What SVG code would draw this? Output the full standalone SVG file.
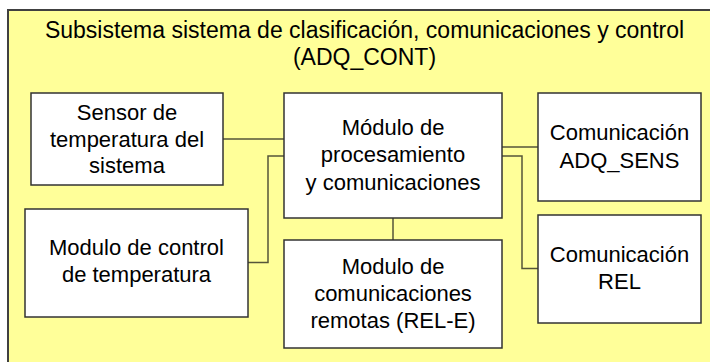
<svg xmlns="http://www.w3.org/2000/svg" width="710" height="362" viewBox="0 0 710 362">
<style>
.box{fill:#ffffff;stroke:#333333;stroke-width:1.5}
.t{font-family:"Liberation Sans",Arial,sans-serif;font-size:22px;fill:#000;text-anchor:middle}
.title{font-size:23px}
.c{fill:none;stroke:#55553a;stroke-width:1.5}
</style>
<rect x="8" y="10" width="730" height="380" fill="#ffff99" stroke="#404040" stroke-width="2"/>
<text class="t title" x="364.5" y="38">Subsistema sistema de clasificación, comunicaciones y control</text>
<text class="t title" x="364.5" y="65">(ADQ_CONT)</text>
<g id="connectors">
<path class="c" d="M223 139H284"/>
<path class="c" d="M248 262.5H268V156H284"/>
<path class="c" d="M393 218V240"/>
<path class="c" d="M502 147H538"/>
<path class="c" d="M502 156H522V268.5H538"/>
</g>
<g id="sensor">
<rect class="box" x="31" y="93" width="192" height="92"/>
<text class="t" x="127" y="120">Sensor de</text>
<text class="t" x="127" y="147">temperatura del</text>
<text class="t" x="127" y="173">sistema</text>
</g>
<g id="procesamiento">
<rect class="box" x="284" y="93" width="218" height="125"/>
<text class="t" x="393" y="135">Módulo de</text>
<text class="t" x="393" y="162">procesamiento</text>
<text class="t" x="393" y="190">y comunicaciones</text>
</g>
<g id="adq_sens">
<rect class="box" x="538" y="93" width="163" height="108"/>
<text class="t" x="619.5" y="140">Comunicación</text>
<text class="t" x="619.5" y="168">ADQ_SENS</text>
</g>
<g id="rel">
<rect class="box" x="538" y="215" width="163" height="108"/>
<text class="t" x="619.5" y="262">Comunicación</text>
<text class="t" x="619.5" y="289">REL</text>
</g>
<g id="control">
<rect class="box" x="25" y="209" width="223" height="108"/>
<text class="t" x="136.5" y="255">Modulo de control</text>
<text class="t" x="136.5" y="282">de temperatura</text>
</g>
<g id="rel_e">
<rect class="box" x="284" y="240" width="218" height="108"/>
<text class="t" x="393" y="274">Modulo de</text>
<text class="t" x="393" y="301">comunicaciones</text>
<text class="t" x="393" y="328">remotas (REL-E)</text>
</g>
</svg>
